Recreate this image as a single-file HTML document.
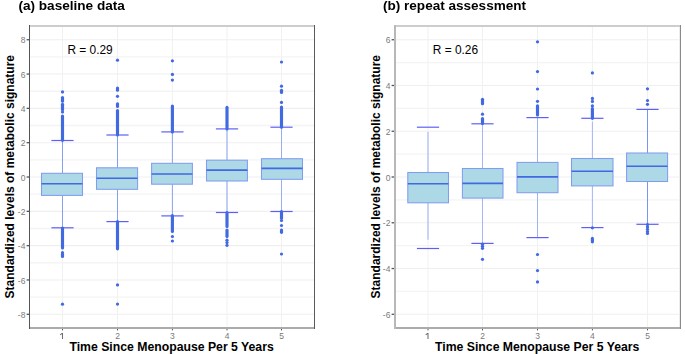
<!DOCTYPE html>
<html><head><meta charset="utf-8"><style>
html,body{margin:0;padding:0;background:#fff;width:685px;height:354px;overflow:hidden;position:relative}
svg{display:block;font-family:"Liberation Sans", sans-serif}
</style></head><body>
<svg width="685" height="354" viewBox="0 0 685 354">
<rect width="685" height="354" fill="#fff"/>
<line x1="29.5" x2="314.5" y1="297.13" y2="297.13" stroke="#f4f4f4" stroke-width="1.4"/>
<line x1="29.5" x2="314.5" y1="262.81" y2="262.81" stroke="#f4f4f4" stroke-width="1.4"/>
<line x1="29.5" x2="314.5" y1="228.49" y2="228.49" stroke="#f4f4f4" stroke-width="1.4"/>
<line x1="29.5" x2="314.5" y1="194.17" y2="194.17" stroke="#f4f4f4" stroke-width="1.4"/>
<line x1="29.5" x2="314.5" y1="159.85" y2="159.85" stroke="#f4f4f4" stroke-width="1.4"/>
<line x1="29.5" x2="314.5" y1="125.53" y2="125.53" stroke="#f4f4f4" stroke-width="1.4"/>
<line x1="29.5" x2="314.5" y1="91.21" y2="91.21" stroke="#f4f4f4" stroke-width="1.4"/>
<line x1="29.5" x2="314.5" y1="56.89" y2="56.89" stroke="#f4f4f4" stroke-width="1.4"/>
<line x1="29.5" x2="314.5" y1="314.29" y2="314.29" stroke="#efefef" stroke-width="1.1"/>
<line x1="29.5" x2="314.5" y1="279.97" y2="279.97" stroke="#efefef" stroke-width="1.1"/>
<line x1="29.5" x2="314.5" y1="245.65" y2="245.65" stroke="#efefef" stroke-width="1.1"/>
<line x1="29.5" x2="314.5" y1="211.33" y2="211.33" stroke="#efefef" stroke-width="1.1"/>
<line x1="29.5" x2="314.5" y1="177.01" y2="177.01" stroke="#efefef" stroke-width="1.1"/>
<line x1="29.5" x2="314.5" y1="142.69" y2="142.69" stroke="#efefef" stroke-width="1.1"/>
<line x1="29.5" x2="314.5" y1="108.37" y2="108.37" stroke="#efefef" stroke-width="1.1"/>
<line x1="29.5" x2="314.5" y1="74.05" y2="74.05" stroke="#efefef" stroke-width="1.1"/>
<line x1="29.5" x2="314.5" y1="39.73" y2="39.73" stroke="#efefef" stroke-width="1.1"/>
<line x1="62.50" x2="62.50" y1="26" y2="327" stroke="#f1f1f1" stroke-width="1.0"/>
<line x1="117.50" x2="117.50" y1="26" y2="327" stroke="#f1f1f1" stroke-width="1.0"/>
<line x1="172.40" x2="172.40" y1="26" y2="327" stroke="#f1f1f1" stroke-width="1.0"/>
<line x1="227.00" x2="227.00" y1="26" y2="327" stroke="#f1f1f1" stroke-width="1.0"/>
<line x1="281.50" x2="281.50" y1="26" y2="327" stroke="#f1f1f1" stroke-width="1.0"/>
<line x1="394.5" x2="680.5" y1="291.41" y2="291.41" stroke="#f4f4f4" stroke-width="1.4"/>
<line x1="394.5" x2="680.5" y1="245.65" y2="245.65" stroke="#f4f4f4" stroke-width="1.4"/>
<line x1="394.5" x2="680.5" y1="199.89" y2="199.89" stroke="#f4f4f4" stroke-width="1.4"/>
<line x1="394.5" x2="680.5" y1="154.13" y2="154.13" stroke="#f4f4f4" stroke-width="1.4"/>
<line x1="394.5" x2="680.5" y1="108.37" y2="108.37" stroke="#f4f4f4" stroke-width="1.4"/>
<line x1="394.5" x2="680.5" y1="62.61" y2="62.61" stroke="#f4f4f4" stroke-width="1.4"/>
<line x1="394.5" x2="680.5" y1="314.29" y2="314.29" stroke="#efefef" stroke-width="1.1"/>
<line x1="394.5" x2="680.5" y1="268.53" y2="268.53" stroke="#efefef" stroke-width="1.1"/>
<line x1="394.5" x2="680.5" y1="222.77" y2="222.77" stroke="#efefef" stroke-width="1.1"/>
<line x1="394.5" x2="680.5" y1="177.01" y2="177.01" stroke="#efefef" stroke-width="1.1"/>
<line x1="394.5" x2="680.5" y1="131.25" y2="131.25" stroke="#efefef" stroke-width="1.1"/>
<line x1="394.5" x2="680.5" y1="85.49" y2="85.49" stroke="#efefef" stroke-width="1.1"/>
<line x1="394.5" x2="680.5" y1="39.73" y2="39.73" stroke="#efefef" stroke-width="1.1"/>
<line x1="428.00" x2="428.00" y1="26" y2="327" stroke="#f1f1f1" stroke-width="1.0"/>
<line x1="482.50" x2="482.50" y1="26" y2="327" stroke="#f1f1f1" stroke-width="1.0"/>
<line x1="537.50" x2="537.50" y1="26" y2="327" stroke="#f1f1f1" stroke-width="1.0"/>
<line x1="592.40" x2="592.40" y1="26" y2="327" stroke="#f1f1f1" stroke-width="1.0"/>
<line x1="647.50" x2="647.50" y1="26" y2="327" stroke="#f1f1f1" stroke-width="1.0"/>
<line x1="62.50" x2="62.50" y1="140.50" y2="173.30" stroke="#86a0f0" stroke-width="1.0"/>
<line x1="62.50" x2="62.50" y1="195.40" y2="227.80" stroke="#86a0f0" stroke-width="1.0"/>
<line x1="51.40" x2="73.60" y1="140.50" y2="140.50" stroke="#5d60f6" stroke-width="1.2"/>
<line x1="51.40" x2="73.60" y1="227.80" y2="227.80" stroke="#5d60f6" stroke-width="1.2"/>
<rect x="41.50" y="173.30" width="41.00" height="22.10" fill="#add8e6" stroke="#819df0" stroke-width="1.05"/>
<line x1="41.50" x2="82.50" y1="183.70" y2="183.70" stroke="#4169e1" stroke-width="1.6"/>
<circle cx="62.50" cy="91.90" r="1.62" fill="#4169e1"/>
<circle cx="62.50" cy="112.00" r="1.62" fill="#4169e1"/>
<circle cx="62.50" cy="304.20" r="1.62" fill="#4169e1"/>
<line x1="62.50" x2="62.50" y1="97.60" y2="101.20" stroke="#4169e1" stroke-width="3.15" stroke-linecap="round"/>
<line x1="62.50" x2="62.50" y1="104.30" y2="109.70" stroke="#4169e1" stroke-width="3.15" stroke-linecap="round"/>
<line x1="62.50" x2="62.50" y1="116.00" y2="140.30" stroke="#4169e1" stroke-width="3.15" stroke-linecap="round"/>
<line x1="62.50" x2="62.50" y1="228.00" y2="248.00" stroke="#4169e1" stroke-width="3.15" stroke-linecap="round"/>
<circle cx="62.50" cy="252.70" r="1.62" fill="#4169e1"/>
<line x1="62.50" x2="62.50" y1="254.50" y2="256.50" stroke="#4169e1" stroke-width="3.15" stroke-linecap="round"/>
<line x1="117.50" x2="117.50" y1="135.00" y2="167.80" stroke="#86a0f0" stroke-width="1.0"/>
<line x1="117.50" x2="117.50" y1="189.30" y2="221.60" stroke="#86a0f0" stroke-width="1.0"/>
<line x1="106.40" x2="128.60" y1="135.00" y2="135.00" stroke="#5d60f6" stroke-width="1.2"/>
<line x1="106.40" x2="128.60" y1="221.60" y2="221.60" stroke="#5d60f6" stroke-width="1.2"/>
<rect x="96.50" y="167.80" width="41.10" height="21.50" fill="#add8e6" stroke="#819df0" stroke-width="1.05"/>
<line x1="96.50" x2="137.60" y1="178.20" y2="178.20" stroke="#4169e1" stroke-width="1.6"/>
<circle cx="117.50" cy="60.20" r="1.62" fill="#4169e1"/>
<circle cx="117.50" cy="96.30" r="1.62" fill="#4169e1"/>
<circle cx="117.50" cy="284.90" r="1.62" fill="#4169e1"/>
<circle cx="117.50" cy="304.10" r="1.62" fill="#4169e1"/>
<line x1="117.50" x2="117.50" y1="88.00" y2="90.20" stroke="#4169e1" stroke-width="3.15" stroke-linecap="round"/>
<line x1="117.50" x2="117.50" y1="103.80" y2="106.50" stroke="#4169e1" stroke-width="3.15" stroke-linecap="round"/>
<line x1="117.50" x2="117.50" y1="110.60" y2="135.00" stroke="#4169e1" stroke-width="3.15" stroke-linecap="round"/>
<line x1="117.50" x2="117.50" y1="221.60" y2="248.80" stroke="#4169e1" stroke-width="3.15" stroke-linecap="round"/>
<line x1="172.40" x2="172.40" y1="131.90" y2="163.30" stroke="#8aa2f0" stroke-width="1.0"/>
<line x1="172.40" x2="172.40" y1="184.20" y2="215.90" stroke="#8aa2f0" stroke-width="1.0"/>
<line x1="161.30" x2="183.50" y1="131.90" y2="131.90" stroke="#5d60f6" stroke-width="1.2"/>
<line x1="161.30" x2="183.50" y1="215.90" y2="215.90" stroke="#5d60f6" stroke-width="1.2"/>
<rect x="151.60" y="163.30" width="40.80" height="20.90" fill="#add8e6" stroke="#819df0" stroke-width="1.05"/>
<line x1="151.60" x2="192.40" y1="174.00" y2="174.00" stroke="#4169e1" stroke-width="1.6"/>
<circle cx="172.40" cy="60.80" r="1.62" fill="#4169e1"/>
<circle cx="172.40" cy="74.40" r="1.62" fill="#4169e1"/>
<circle cx="172.40" cy="80.10" r="1.62" fill="#4169e1"/>
<line x1="172.40" x2="172.40" y1="106.00" y2="131.90" stroke="#4169e1" stroke-width="3.15" stroke-linecap="round"/>
<line x1="172.40" x2="172.40" y1="215.50" y2="231.50" stroke="#4169e1" stroke-width="3.15" stroke-linecap="round"/>
<circle cx="172.40" cy="236.50" r="1.62" fill="#4169e1"/>
<circle cx="172.40" cy="241.00" r="1.62" fill="#4169e1"/>
<line x1="227.00" x2="227.00" y1="128.90" y2="160.20" stroke="#8aa2f0" stroke-width="1.0"/>
<line x1="227.00" x2="227.00" y1="181.00" y2="212.50" stroke="#8aa2f0" stroke-width="1.0"/>
<line x1="215.90" x2="238.10" y1="128.90" y2="128.90" stroke="#5d60f6" stroke-width="1.2"/>
<line x1="215.90" x2="238.10" y1="212.50" y2="212.50" stroke="#5d60f6" stroke-width="1.2"/>
<rect x="206.50" y="160.20" width="40.90" height="20.80" fill="#add8e6" stroke="#819df0" stroke-width="1.05"/>
<line x1="206.50" x2="247.40" y1="170.10" y2="170.10" stroke="#4169e1" stroke-width="1.6"/>
<line x1="227.00" x2="227.00" y1="107.40" y2="128.90" stroke="#4169e1" stroke-width="3.15" stroke-linecap="round"/>
<line x1="227.00" x2="227.00" y1="212.50" y2="226.50" stroke="#4169e1" stroke-width="3.15" stroke-linecap="round"/>
<line x1="227.00" x2="227.00" y1="230.00" y2="236.50" stroke="#4169e1" stroke-width="3.15" stroke-linecap="round"/>
<circle cx="227.00" cy="240.20" r="1.62" fill="#4169e1"/>
<circle cx="227.00" cy="242.60" r="1.62" fill="#4169e1"/>
<circle cx="227.00" cy="245.30" r="1.62" fill="#4169e1"/>
<line x1="281.50" x2="281.50" y1="127.20" y2="158.70" stroke="#98adf2" stroke-width="1.0"/>
<line x1="281.50" x2="281.50" y1="179.30" y2="211.50" stroke="#98adf2" stroke-width="1.0"/>
<line x1="270.40" x2="292.60" y1="127.20" y2="127.20" stroke="#5d60f6" stroke-width="1.2"/>
<line x1="270.40" x2="292.60" y1="211.50" y2="211.50" stroke="#5d60f6" stroke-width="1.2"/>
<rect x="261.50" y="158.70" width="41.00" height="20.60" fill="#add8e6" stroke="#819df0" stroke-width="1.05"/>
<line x1="261.50" x2="302.50" y1="168.40" y2="168.40" stroke="#4169e1" stroke-width="1.6"/>
<circle cx="281.50" cy="62.00" r="1.62" fill="#4169e1"/>
<circle cx="281.50" cy="86.20" r="1.62" fill="#4169e1"/>
<circle cx="281.50" cy="102.40" r="1.62" fill="#4169e1"/>
<circle cx="281.50" cy="220.50" r="1.62" fill="#4169e1"/>
<circle cx="281.50" cy="225.50" r="1.62" fill="#4169e1"/>
<circle cx="281.50" cy="254.00" r="1.62" fill="#4169e1"/>
<line x1="281.50" x2="281.50" y1="90.20" y2="92.50" stroke="#4169e1" stroke-width="3.15" stroke-linecap="round"/>
<line x1="281.50" x2="281.50" y1="107.00" y2="127.20" stroke="#4169e1" stroke-width="3.15" stroke-linecap="round"/>
<line x1="281.50" x2="281.50" y1="211.50" y2="218.20" stroke="#4169e1" stroke-width="3.15" stroke-linecap="round"/>
<line x1="281.50" x2="281.50" y1="230.00" y2="232.30" stroke="#4169e1" stroke-width="3.15" stroke-linecap="round"/>
<line x1="428.00" x2="428.00" y1="131.90" y2="172.50" stroke="#98aef2" stroke-width="1.0"/>
<line x1="428.00" x2="428.00" y1="202.80" y2="239.70" stroke="#98aef2" stroke-width="1.0"/>
<line x1="416.90" x2="439.10" y1="127.20" y2="127.20" stroke="#5d60f6" stroke-width="1.2"/>
<line x1="416.90" x2="439.10" y1="248.50" y2="248.50" stroke="#5d60f6" stroke-width="1.2"/>
<rect x="407.80" y="172.50" width="40.70" height="30.30" fill="#add8e6" stroke="#819df0" stroke-width="1.05"/>
<line x1="407.80" x2="448.50" y1="183.80" y2="183.80" stroke="#4169e1" stroke-width="1.6"/>
<line x1="482.50" x2="482.50" y1="123.80" y2="168.50" stroke="#a5b7f3" stroke-width="1.0"/>
<line x1="482.50" x2="482.50" y1="198.10" y2="243.40" stroke="#a5b7f3" stroke-width="1.0"/>
<line x1="471.40" x2="493.60" y1="123.80" y2="123.80" stroke="#5d60f6" stroke-width="1.2"/>
<line x1="471.40" x2="493.60" y1="243.40" y2="243.40" stroke="#5d60f6" stroke-width="1.2"/>
<rect x="462.40" y="168.50" width="40.60" height="29.60" fill="#add8e6" stroke="#819df0" stroke-width="1.05"/>
<line x1="462.40" x2="503.00" y1="183.40" y2="183.40" stroke="#4169e1" stroke-width="1.6"/>
<line x1="482.50" x2="482.50" y1="99.20" y2="103.70" stroke="#4169e1" stroke-width="3.15" stroke-linecap="round"/>
<circle cx="482.50" cy="114.20" r="1.62" fill="#4169e1"/>
<circle cx="482.50" cy="259.30" r="1.62" fill="#4169e1"/>
<circle cx="482.50" cy="244.20" r="1.62" fill="#4169e1"/>
<circle cx="482.50" cy="246.30" r="1.62" fill="#4169e1"/>
<circle cx="482.50" cy="248.30" r="1.62" fill="#4169e1"/>
<line x1="482.50" x2="482.50" y1="118.60" y2="123.60" stroke="#4169e1" stroke-width="3.15" stroke-linecap="round"/>
<line x1="537.50" x2="537.50" y1="117.60" y2="162.40" stroke="#a0b3f3" stroke-width="1.0"/>
<line x1="537.50" x2="537.50" y1="192.70" y2="237.60" stroke="#a0b3f3" stroke-width="1.0"/>
<line x1="526.40" x2="548.60" y1="117.60" y2="117.60" stroke="#5d60f6" stroke-width="1.2"/>
<line x1="526.40" x2="548.60" y1="237.60" y2="237.60" stroke="#5d60f6" stroke-width="1.2"/>
<rect x="517.00" y="162.40" width="41.00" height="30.30" fill="#add8e6" stroke="#819df0" stroke-width="1.05"/>
<line x1="517.00" x2="558.00" y1="176.90" y2="176.90" stroke="#4169e1" stroke-width="1.6"/>
<circle cx="537.50" cy="41.80" r="1.62" fill="#4169e1"/>
<circle cx="537.50" cy="71.60" r="1.62" fill="#4169e1"/>
<circle cx="537.50" cy="89.00" r="1.62" fill="#4169e1"/>
<circle cx="537.50" cy="101.30" r="1.62" fill="#4169e1"/>
<circle cx="537.50" cy="254.50" r="1.62" fill="#4169e1"/>
<circle cx="537.50" cy="270.60" r="1.62" fill="#4169e1"/>
<circle cx="537.50" cy="281.90" r="1.62" fill="#4169e1"/>
<line x1="537.50" x2="537.50" y1="105.80" y2="114.90" stroke="#4169e1" stroke-width="3.15" stroke-linecap="round"/>
<line x1="592.40" x2="592.40" y1="121.50" y2="158.50" stroke="#a5b7f3" stroke-width="1.0"/>
<line x1="592.40" x2="592.40" y1="185.90" y2="227.60" stroke="#a5b7f3" stroke-width="1.0"/>
<line x1="581.30" x2="603.50" y1="118.30" y2="118.30" stroke="#5d60f6" stroke-width="1.2"/>
<line x1="581.30" x2="603.50" y1="227.60" y2="227.60" stroke="#5d60f6" stroke-width="1.2"/>
<rect x="571.50" y="158.50" width="41.50" height="27.40" fill="#add8e6" stroke="#819df0" stroke-width="1.05"/>
<line x1="571.50" x2="613.00" y1="171.20" y2="171.20" stroke="#4169e1" stroke-width="1.6"/>
<circle cx="592.40" cy="72.90" r="1.62" fill="#4169e1"/>
<circle cx="592.40" cy="98.40" r="1.62" fill="#4169e1"/>
<circle cx="592.40" cy="101.40" r="1.62" fill="#4169e1"/>
<circle cx="592.40" cy="105.90" r="1.62" fill="#4169e1"/>
<circle cx="592.40" cy="227.80" r="1.62" fill="#4169e1"/>
<line x1="592.40" x2="592.40" y1="108.60" y2="118.30" stroke="#4169e1" stroke-width="3.15" stroke-linecap="round"/>
<line x1="592.40" x2="592.40" y1="238.40" y2="241.80" stroke="#4169e1" stroke-width="3.15" stroke-linecap="round"/>
<line x1="647.50" x2="647.50" y1="109.40" y2="153.00" stroke="#7a95f0" stroke-width="1.0"/>
<line x1="647.50" x2="647.50" y1="181.50" y2="224.30" stroke="#7a95f0" stroke-width="1.0"/>
<line x1="636.40" x2="658.60" y1="109.40" y2="109.40" stroke="#5d60f6" stroke-width="1.2"/>
<line x1="636.40" x2="658.60" y1="224.30" y2="224.30" stroke="#5d60f6" stroke-width="1.2"/>
<rect x="626.60" y="153.00" width="41.00" height="28.50" fill="#add8e6" stroke="#819df0" stroke-width="1.05"/>
<line x1="626.60" x2="667.60" y1="166.20" y2="166.20" stroke="#4169e1" stroke-width="1.6"/>
<circle cx="647.50" cy="88.80" r="1.62" fill="#4169e1"/>
<circle cx="647.50" cy="100.50" r="1.62" fill="#4169e1"/>
<circle cx="647.50" cy="104.30" r="1.62" fill="#4169e1"/>
<circle cx="647.50" cy="224.60" r="1.62" fill="#4169e1"/>
<circle cx="647.50" cy="226.90" r="1.62" fill="#4169e1"/>
<circle cx="647.50" cy="229.30" r="1.62" fill="#4169e1"/>
<circle cx="647.50" cy="231.50" r="1.62" fill="#4169e1"/>
<circle cx="647.50" cy="233.40" r="1.62" fill="#4169e1"/>
<rect x="29" y="25" width="286" height="2" fill="#cdcdcd"/>
<rect x="29" y="327" width="286" height="2" fill="#ababab"/>
<rect x="29" y="25" width="1" height="304" fill="#555555"/>
<rect x="314" y="25" width="1" height="304" fill="#5a5a5a"/>
<rect x="394" y="25" width="287" height="2" fill="#cdcdcd"/>
<rect x="394" y="327" width="287" height="2" fill="#ababab"/>
<rect x="394" y="25" width="2" height="304" fill="#b8b8b8"/>
<rect x="680" y="25" width="1" height="304" fill="#8a8a8a"/>
<rect x="679" y="27" width="1" height="300" fill="#ececec"/>
<line x1="26.6" x2="29" y1="314.29" y2="314.29" stroke="#555" stroke-width="1.3"/>
<text x="25.4" y="317.89" font-size="8.5" font-weight="normal" fill="#7a7a7a" text-anchor="end" >-8</text>
<line x1="26.6" x2="29" y1="279.97" y2="279.97" stroke="#555" stroke-width="1.3"/>
<text x="25.4" y="283.57" font-size="8.5" font-weight="normal" fill="#7a7a7a" text-anchor="end" >-6</text>
<line x1="26.6" x2="29" y1="245.65" y2="245.65" stroke="#555" stroke-width="1.3"/>
<text x="25.4" y="249.25" font-size="8.5" font-weight="normal" fill="#7a7a7a" text-anchor="end" >-4</text>
<line x1="26.6" x2="29" y1="211.33" y2="211.33" stroke="#555" stroke-width="1.3"/>
<text x="25.4" y="214.93" font-size="8.5" font-weight="normal" fill="#7a7a7a" text-anchor="end" >-2</text>
<line x1="26.6" x2="29" y1="177.01" y2="177.01" stroke="#555" stroke-width="1.3"/>
<text x="25.4" y="180.61" font-size="8.5" font-weight="normal" fill="#7a7a7a" text-anchor="end" >0</text>
<line x1="26.6" x2="29" y1="142.69" y2="142.69" stroke="#555" stroke-width="1.3"/>
<text x="25.4" y="146.29" font-size="8.5" font-weight="normal" fill="#7a7a7a" text-anchor="end" >2</text>
<line x1="26.6" x2="29" y1="108.37" y2="108.37" stroke="#555" stroke-width="1.3"/>
<text x="25.4" y="111.97" font-size="8.5" font-weight="normal" fill="#7a7a7a" text-anchor="end" >4</text>
<line x1="26.6" x2="29" y1="74.05" y2="74.05" stroke="#555" stroke-width="1.3"/>
<text x="25.4" y="77.65" font-size="8.5" font-weight="normal" fill="#7a7a7a" text-anchor="end" >6</text>
<line x1="26.6" x2="29" y1="39.73" y2="39.73" stroke="#555" stroke-width="1.3"/>
<text x="25.4" y="43.33" font-size="8.5" font-weight="normal" fill="#7a7a7a" text-anchor="end" >8</text>
<line x1="391.6" x2="394" y1="314.29" y2="314.29" stroke="#555" stroke-width="1.3"/>
<text x="390.4" y="317.89" font-size="8.5" font-weight="normal" fill="#7a7a7a" text-anchor="end" >-6</text>
<line x1="391.6" x2="394" y1="268.53" y2="268.53" stroke="#555" stroke-width="1.3"/>
<text x="390.4" y="272.13" font-size="8.5" font-weight="normal" fill="#7a7a7a" text-anchor="end" >-4</text>
<line x1="391.6" x2="394" y1="222.77" y2="222.77" stroke="#555" stroke-width="1.3"/>
<text x="390.4" y="226.37" font-size="8.5" font-weight="normal" fill="#7a7a7a" text-anchor="end" >-2</text>
<line x1="391.6" x2="394" y1="177.01" y2="177.01" stroke="#555" stroke-width="1.3"/>
<text x="390.4" y="180.61" font-size="8.5" font-weight="normal" fill="#7a7a7a" text-anchor="end" >0</text>
<line x1="391.6" x2="394" y1="131.25" y2="131.25" stroke="#555" stroke-width="1.3"/>
<text x="390.4" y="134.85" font-size="8.5" font-weight="normal" fill="#7a7a7a" text-anchor="end" >2</text>
<line x1="391.6" x2="394" y1="85.49" y2="85.49" stroke="#555" stroke-width="1.3"/>
<text x="390.4" y="89.09" font-size="8.5" font-weight="normal" fill="#7a7a7a" text-anchor="end" >4</text>
<line x1="391.6" x2="394" y1="39.73" y2="39.73" stroke="#555" stroke-width="1.3"/>
<text x="390.4" y="43.33" font-size="8.5" font-weight="normal" fill="#7a7a7a" text-anchor="end" >6</text>
<line x1="62.50" x2="62.50" y1="329" y2="330.4" stroke="#555" stroke-width="1"/>
<path d="M60.20 334.9 L62.40 333.1 M62.50 333.0 L62.50 339.0" stroke="#6e6e6e" stroke-width="1.05" fill="none"/>
<line x1="117.50" x2="117.50" y1="329" y2="330.4" stroke="#555" stroke-width="1"/>
<text x="117.50" y="339" font-size="8.5" font-weight="normal" fill="#7a7a7a" text-anchor="middle" >2</text>
<line x1="172.40" x2="172.40" y1="329" y2="330.4" stroke="#555" stroke-width="1"/>
<text x="172.40" y="339" font-size="8.5" font-weight="normal" fill="#7a7a7a" text-anchor="middle" >3</text>
<line x1="227.00" x2="227.00" y1="329" y2="330.4" stroke="#555" stroke-width="1"/>
<text x="227.00" y="339" font-size="8.5" font-weight="normal" fill="#7a7a7a" text-anchor="middle" >4</text>
<line x1="281.50" x2="281.50" y1="329" y2="330.4" stroke="#555" stroke-width="1"/>
<text x="281.50" y="339" font-size="8.5" font-weight="normal" fill="#7a7a7a" text-anchor="middle" >5</text>
<line x1="428.00" x2="428.00" y1="329" y2="330.4" stroke="#555" stroke-width="1"/>
<path d="M425.70 334.9 L427.90 333.1 M428.00 333.0 L428.00 339.0" stroke="#6e6e6e" stroke-width="1.05" fill="none"/>
<line x1="482.50" x2="482.50" y1="329" y2="330.4" stroke="#555" stroke-width="1"/>
<text x="482.50" y="339" font-size="8.5" font-weight="normal" fill="#7a7a7a" text-anchor="middle" >2</text>
<line x1="537.50" x2="537.50" y1="329" y2="330.4" stroke="#555" stroke-width="1"/>
<text x="537.50" y="339" font-size="8.5" font-weight="normal" fill="#7a7a7a" text-anchor="middle" >3</text>
<line x1="592.40" x2="592.40" y1="329" y2="330.4" stroke="#555" stroke-width="1"/>
<text x="592.40" y="339" font-size="8.5" font-weight="normal" fill="#7a7a7a" text-anchor="middle" >4</text>
<line x1="647.50" x2="647.50" y1="329" y2="330.4" stroke="#555" stroke-width="1"/>
<text x="647.50" y="339" font-size="8.5" font-weight="normal" fill="#7a7a7a" text-anchor="middle" >5</text>
<text x="67.4" y="54.0" font-size="11.9" font-weight="normal" fill="#000" text-anchor="start" >R = 0.29</text>
<text x="432.8" y="53.9" font-size="11.9" font-weight="normal" fill="#000" text-anchor="start" >R = 0.26</text>
<text x="171.6" y="351.15" font-size="12.24" font-weight="bold" fill="#000" text-anchor="middle" >Time Since Menopause Per 5 Years</text>
<text x="537.2" y="351.15" font-size="12.24" font-weight="bold" fill="#000" text-anchor="middle" >Time Since Menopause Per 5 Years</text>
<text x="0" y="0" font-size="12.0" font-weight="bold" fill="#000" text-anchor="middle" transform="translate(14.4,176.7) rotate(-90)">Standardized levels of metabolic signature</text>
<text x="0" y="0" font-size="12.0" font-weight="bold" fill="#000" text-anchor="middle" transform="translate(380.2,176.7) rotate(-90)">Standardized levels of metabolic signature</text>
</svg>
<svg style="position:absolute;left:0;top:0;will-change:transform" width="685" height="354" viewBox="0 0 685 354">
<text x="18.4" y="9.8" font-size="13.6" font-weight="bold" fill="#000" text-anchor="start" >(a) baseline data</text>
<text x="383.0" y="9.8" font-size="13.55" font-weight="bold" fill="#000" text-anchor="start" >(b) repeat assessment</text>
</svg>
</body></html>
